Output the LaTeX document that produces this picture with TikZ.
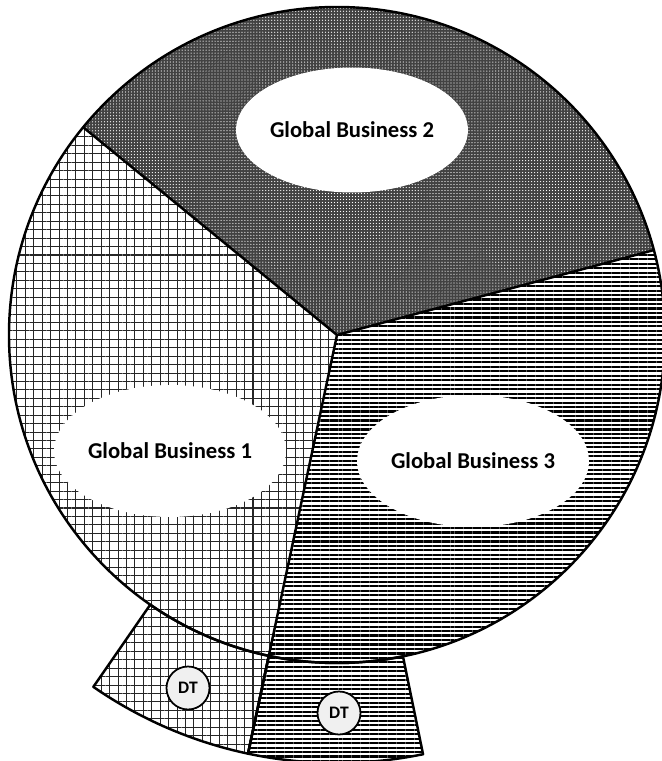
\documentclass[tikz,border=0pt]{standalone}
\usepackage{fontspec}
\setmainfont{Carlito}
\usetikzlibrary{shapes.geometric,patterns.meta}

\tikzset{
  blob/.style={ellipse, fill=white, inner sep=0pt, minimum width=4.2cm, minimum height=2.64cm, font=\bfseries\fontsize{12.9}{15}\selectfont},
  dt/.style={circle, draw, line width=1pt, fill=black!6, minimum size=0.86cm, inner sep=0pt, font=\bfseries\fontsize{10}{12}\selectfont},
  grid/.style={pattern={Hatch[angle=0,distance=4.8pt,line width=0.6pt]}, pattern color=black!85},
  dots/.style={pattern={Dots[distance=1.7pt,radius=0.35pt]}, pattern color=white},
  stripes/.style={pattern={Lines[angle=0,distance=2.55pt,line width=1.2pt]}, pattern color=black},
  edge/.style={line width=1.4pt, line join=round},
}

\begin{document}
\begin{tikzpicture}[x=0.02cm, y=0.02cm]
        \def\R{328}
        \def\Rout{428}
        \useasboundingbox (-337,335) rectangle (325,-426);
        \coordinate (o) at (0,0);
        \coordinate (a) at (15:\R);
        \coordinate (b) at (140.7:\R);
        \coordinate (c) at (258:\R);
        \coordinate (c') at (258:\Rout);
        % slices
        \fill[grid] (o) -- (b) arc (140.7:258:\R) -- cycle;
        \fill[black!74] (o) -- (a) arc (15:140.7:\R) -- cycle;
        \fill[dots] (o) -- (a) arc (15:140.7:\R) -- cycle;
        \fill[stripes] (o) -- (c) arc (258:375:\R) -- cycle;
        % the two outer pieces
        \filldraw[grid, edge] (235.3:\R) -- (235.3:\Rout) arc (235.3:258:\Rout) -- (c) arc (258:235.3:\R) -- cycle;
        \filldraw[stripes, edge] (c) -- (c') arc (258:281.6:\Rout) -- (281.6:\R) arc (281.6:258:\R) -- cycle;
        \draw[edge] (o) circle (\R);
        \draw[edge] (b) -- (o) -- (a);
        \draw[edge] (o) -- (c');
        % labels
        \node[blob, minimum width=4cm, minimum height=2.5cm] (b2) at (15,205) {Global Business 2};
        \node[blob] (b1) at (-167,-116) {Global Business 1};
        \node[blob] (b3) at (136,-126) {Global Business 3};
        \node[dt] (d1) at (-149,-353) {DT};
        \node[dt] (d2) at (2,-378) {DT};
    \end{tikzpicture}
\end{document}
